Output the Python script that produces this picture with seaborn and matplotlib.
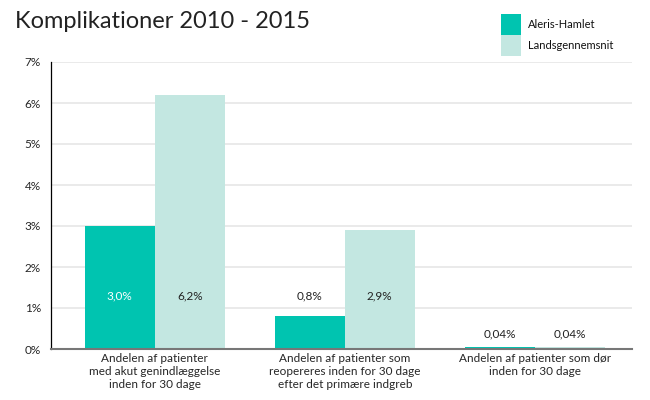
import numpy as np
import pandas as pd
import matplotlib.pyplot as plt
import seaborn as sns
from matplotlib.patches import Rectangle

# Data
kategorier = [
    "Andelen af patienter\nmed akut genindlæggelse\ninden for 30 dage",
    "Andelen af patienter som\nreopereres inden for 30 dage\nefter det primære indgreb",
    "Andelen af patienter som dør\ninden for 30 dage",
]
serier = ["Aleris-Hamlet", "Landsgennemsnit"]
aleris = [3.0, 0.8, 0.04]
lands = [6.2, 2.9, 0.04]
etiketter_aleris = ["3,0%", "0,8%", "0,04%"]
etiketter_lands = ["6,2%", "2,9%", "0,04%"]
yticks = [0, 1, 2, 3, 4, 5, 6, 7]

farver = ["#00C4B0", "#C3E7E1"]

df = pd.DataFrame({
    "kategori": kategorier * 2,
    "serie": [serier[0]] * 3 + [serier[1]] * 3,
    "vaerdi": aleris + lands,
})

sns.set_style("white")
plt.rcParams["font.family"] = ["Lato", "DejaVu Sans"]

fig = plt.figure(figsize=(6.5, 4), dpi=100)
ax = fig.add_axes([0.078, 0.1275, 0.894, 0.7175])

sns.barplot(data=df, x="kategori", y="vaerdi", hue="serie", palette=farver,
            width=0.737, saturation=1, linewidth=0, ax=ax, legend=False)

ax.set_ylim(0, 7)
ax.set_xlim(-0.547, 2.51)
ax.set_yticks(yticks)
ax.set_yticklabels([f"{v}%" for v in yticks], fontsize=8.5)
ax.tick_params(axis="x", length=0, labelsize=8.5, pad=3)
ax.tick_params(axis="y", length=4, width=0.8, color="black", pad=3)
ax.set_xlabel("")
ax.set_ylabel("")
ax.grid(axis="y", color="#E6E6E6", linewidth=1.2)
ax.set_axisbelow(True)
for s in ["top", "right"]:
    ax.spines[s].set_visible(False)
ax.spines["left"].set_color("black")
ax.spines["left"].set_linewidth(0.9)
ax.spines["bottom"].set_color("#777777")
ax.spines["bottom"].set_linewidth(1.5)

# Værdietiketter
etiket_y = [1.3, 1.3, 0.37]
halv = 0.737 / 4
for i in range(3):
    ax.text(i - halv, etiket_y[i], etiketter_aleris[i], ha="center", va="center",
            fontsize=8.5, color="white" if aleris[i] > etiket_y[i] else "#222222")
    ax.text(i + halv, etiket_y[i], etiketter_lands[i], ha="center", va="center",
            fontsize=8.5, color="#222222")

# Titel
fig.text(0.023, 0.945, "Komplikationer 2010 - 2015", fontsize=17, fontweight="normal",
         ha="left", va="center", color="#222222")

# Forklaring
for j, (navn, farve) in enumerate(zip(serier, farver)):
    y0 = 400 - 35 - j * 21
    fig.patches.append(Rectangle((501 / 650, y0 / 400), 20 / 650, 21 / 400,
                                 transform=fig.transFigure, facecolor=farve,
                                 edgecolor="none"))
    fig.text(528 / 650, (y0 + 10.5) / 400, navn, fontsize=8, ha="left", va="center",
             color="#111111")

fig.savefig("out.png", dpi=100)
